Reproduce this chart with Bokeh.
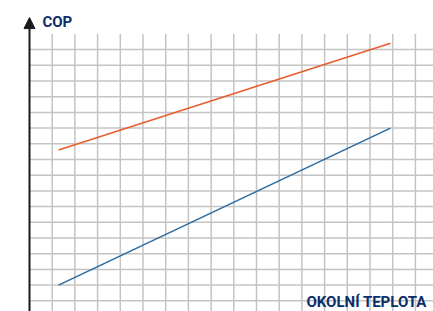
from bokeh.plotting import figure
from bokeh.models import Range1d, Arrow, NormalHead, Label
from bokeh.embed import file_html
from bokeh.resources import INLINE

# Data (grid units)
temp = [1.28, 15.9]
cop_high = [10.6, 17.4]
cop_low = [2.0, 12.0]
x_grid = list(range(1, 18))
y_grid = list(range(1, 18))
grid_top = 18.0
y_title = "COP"
x_title = "OKOLNÍ TEPLOTA"

NAVY = "#0d2d6b"
GRID = "#c4c4c4"

p = figure(width=433, height=311, output_backend="svg", toolbar_location=None,
           x_range=Range1d(-1.2775, 17.797), y_range=Range1d(0.318, 20.127),
           min_border=0, min_border_left=0, min_border_right=0,
           min_border_top=0, min_border_bottom=0)
p.axis.visible = False
p.grid.visible = False
p.outline_line_color = None
p.background_fill_color = "white"
p.border_fill_color = "white"

# grid
p.segment(x0=x_grid, y0=[0.0] * len(x_grid), x1=x_grid, y1=[grid_top] * len(x_grid),
          line_color=GRID, line_width=1.5)
p.segment(x0=[0.0] * len(y_grid), y0=y_grid, x1=[17.8] * len(y_grid), y1=y_grid,
          line_color=GRID, line_width=1.5)

# y-axis with arrow
p.add_layout(Arrow(x_start=0, y_start=0.0, x_end=0, y_end=19.04,
                   line_color="#1a1a1a", line_width=2,
                   end=NormalHead(size=11, fill_color="#1a1a1a", line_color="#1a1a1a", line_width=1)))

# series
p.line(temp, cop_high, line_color="#e85c2c", line_width=1.5)
p.line(temp, cop_low, line_color="#2a6a9e", line_width=1.5)

p.add_layout(Label(x=0.57, y=18.75, text=y_title, text_font="Roboto", text_font_style="bold",
                   text_font_size="15px", text_color=NAVY, text_baseline="alphabetic"))
p.add_layout(Label(x=17.5, y=0.9, text=x_title, text_font="Roboto", text_font_style="bold",
                   text_font_size="15px", text_color=NAVY, text_align="right",
                   text_baseline="alphabetic"))

open("out.html", "w").write(file_html(p, INLINE))
